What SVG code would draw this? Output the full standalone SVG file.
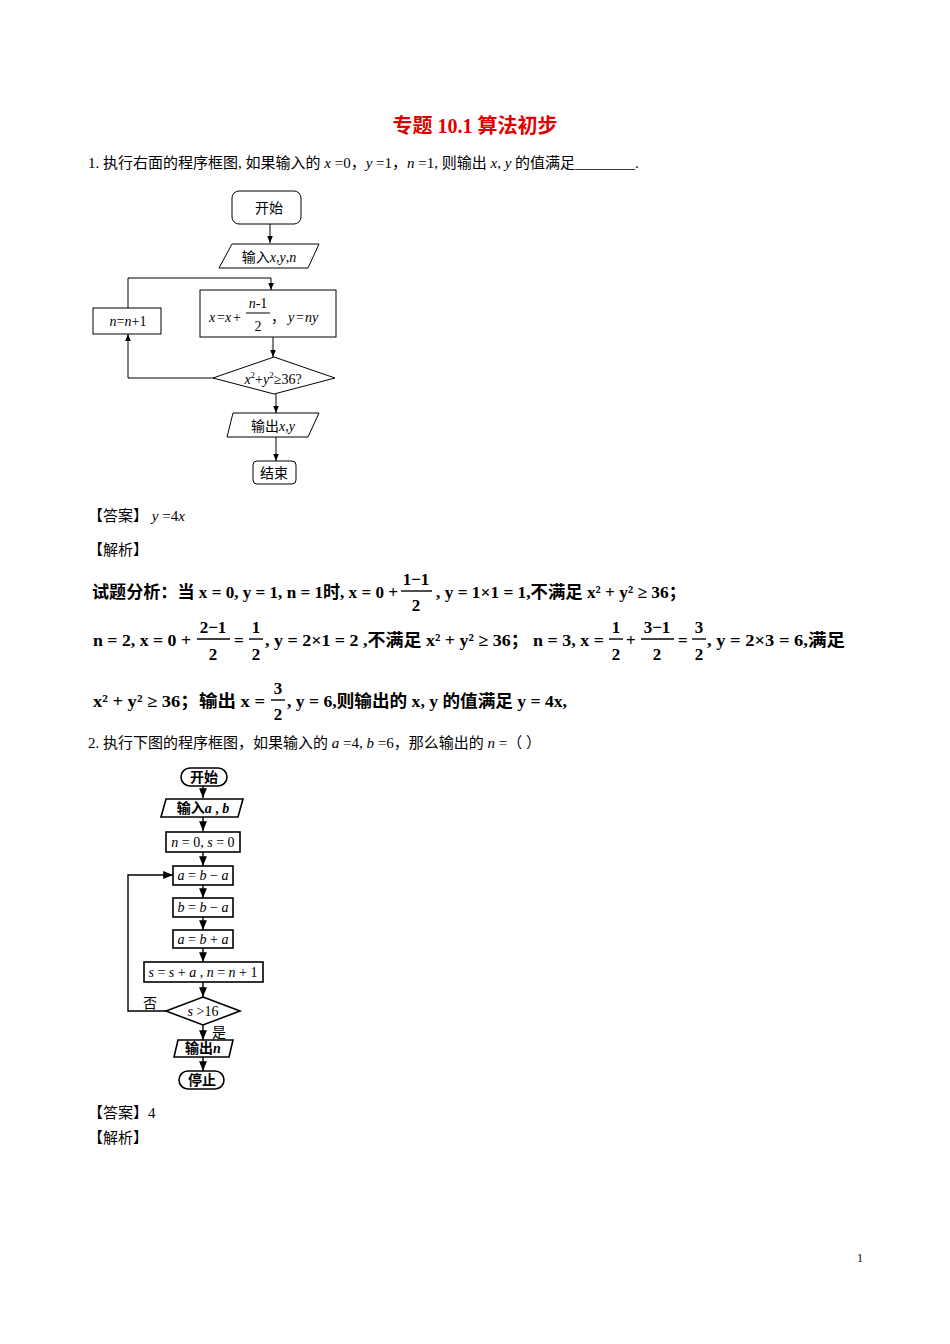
<svg xmlns="http://www.w3.org/2000/svg" width="950" height="1344" viewBox="0 0 950 1344">
<defs>
<marker id="ar" viewBox="0 0 10 10" refX="10" refY="5" markerWidth="7" markerHeight="7" orient="auto-start-reverse"><path d="M0,1 L10,5 L0,9 z" fill="#000"/></marker>
<style>
text{font-family:"Liberation Serif","Noto Sans CJK SC",serif;fill:#000}
.t{font-size:15px}
.f{font-size:14px}
.m{font-size:17px;font-weight:bold}
.s{fill:none;stroke:#000;stroke-width:1}
.b{fill:#fff;stroke:#000;stroke-width:1}
.b2{fill:#fff;stroke:#000;stroke-width:1.6}
.c{stroke:#000;stroke-width:1;fill:none}
.c2{stroke:#000;stroke-width:1.4;fill:none}
i{}
</style>
</defs>
<rect width="950" height="1344" fill="#fff"/>
<text x="475" y="133" text-anchor="middle" style="font-size:20px;font-weight:bold;fill:#e00000">专题 10.1  算法初步</text>
<text class="t" x="88" y="168">1. 执行右面的程序框图, 如果输入的 <tspan font-style="italic">x</tspan> =0，<tspan font-style="italic">y</tspan> =1，<tspan font-style="italic">n</tspan> =1, 则输出 <tspan font-style="italic">x</tspan>, <tspan font-style="italic">y</tspan> 的值满足________.</text>

<g id="connectors1">
<line class="c" x1="270" y1="224" x2="270" y2="243" marker-end="url(#ar)"/>
<polyline class="c" points="128,308 128,278 271,278 271,290" marker-end="url(#ar)"/>
<line class="c" x1="273" y1="337" x2="273" y2="357" marker-end="url(#ar)"/>
<polyline class="c" points="213,378 128,378 128,334" marker-end="url(#ar)"/>
<line class="c" x1="276" y1="394" x2="276" y2="413" marker-end="url(#ar)"/>
<line class="c" x1="276" y1="437" x2="276" y2="461" marker-end="url(#ar)"/>
</g>
<g id="start1"><rect class="b" x="232" y="191" width="69" height="33" rx="7"/><text class="f" x="269" y="213" text-anchor="middle">开始</text></g>
<g id="input1"><polygon class="b" points="232,244 319,244 308,268 219,268"/><text class="f" x="269" y="262" text-anchor="middle">输入<tspan font-style="italic">x</tspan>,<tspan font-style="italic">y</tspan>,<tspan font-style="italic">n</tspan></text></g>
<g id="proc1"><rect class="b" x="200" y="290" width="136" height="47"/>
<text class="f" x="209" y="322" font-style="italic">x</text><text class="f" x="217" y="322">=</text><text class="f" x="225" y="322" font-style="italic">x</text><text class="f" x="233" y="322">+</text>
<text class="f" x="258" y="308" text-anchor="middle"><tspan font-style="italic">n</tspan>-1</text><line class="c" x1="246" y1="313" x2="270" y2="313"/><text class="f" x="258" y="331" text-anchor="middle">2</text>
<text class="f" x="271" y="322">，</text><text class="f" x="288" y="322" font-style="italic">y</text><text class="f" x="296" y="322">=</text><text class="f" x="305" y="322" font-style="italic">ny</text></g>
<g id="inc1"><rect class="b" x="93" y="308" width="68" height="26"/><text class="f" x="128" y="326" text-anchor="middle"><tspan font-style="italic">n</tspan>=<tspan font-style="italic">n</tspan>+1</text></g>
<g id="dec1"><polygon class="b" points="274,357 335,378 274,394 213,378"/><text class="f" x="273" y="384" text-anchor="middle"><tspan font-style="italic">x</tspan><tspan font-size="9" dy="-6">2</tspan><tspan dy="6">+</tspan><tspan font-style="italic">y</tspan><tspan font-size="9" dy="-6">2</tspan><tspan dy="6">≥36?</tspan></text></g>
<g id="output1"><polygon class="b" points="233,413 319,413 308,437 227,437"/><text class="f" x="273" y="431" text-anchor="middle">输出<tspan font-style="italic">x</tspan>,<tspan font-style="italic">y</tspan></text></g>
<g id="end1"><rect class="b" x="253" y="461" width="43" height="23" rx="4"/><text class="f" x="274" y="478" text-anchor="middle">结束</text></g>

<text class="t" x="88" y="521">【答案】 <tspan font-style="italic">y</tspan> =4<tspan font-style="italic">x</tspan></text>
<text class="t" x="88" y="555">【解析】</text>

<g class="analysis">
<text class="m" x="92" y="598" textLength="306" lengthAdjust="spacingAndGlyphs">试题分析：当 x = 0, y = 1, n = 1时, x = 0 +</text>
<text class="m" x="416" y="585" text-anchor="middle">1−1</text><line class="c2" x1="401" y1="591" x2="432" y2="591"/><text class="m" x="416" y="611" text-anchor="middle">2</text>
<text class="m" x="436" y="598" textLength="250" lengthAdjust="spacingAndGlyphs">, y = 1×1 = 1,不满足 x² + y² ≥ 36；</text>

<text class="m" x="93" y="646" textLength="98" lengthAdjust="spacingAndGlyphs">n = 2, x = 0 +</text>
<text class="m" x="213" y="633" text-anchor="middle">2−1</text><line class="c2" x1="197" y1="639" x2="230" y2="639"/><text class="m" x="213" y="660" text-anchor="middle">2</text>
<text class="m" x="234" y="646">=</text>
<text class="m" x="256" y="633" text-anchor="middle">1</text><line class="c2" x1="249" y1="639" x2="263" y2="639"/><text class="m" x="256" y="660" text-anchor="middle">2</text>
<text class="m" x="265" y="646" textLength="339" lengthAdjust="spacingAndGlyphs">, y = 2×1 = 2 ,不满足 x² + y² ≥ 36； n = 3, x =</text>
<text class="m" x="616" y="633" text-anchor="middle">1</text><line class="c2" x1="609" y1="639" x2="623" y2="639"/><text class="m" x="616" y="660" text-anchor="middle">2</text>
<text class="m" x="626" y="646">+</text>
<text class="m" x="657" y="633" text-anchor="middle">3−1</text><line class="c2" x1="641" y1="639" x2="674" y2="639"/><text class="m" x="657" y="660" text-anchor="middle">2</text>
<text class="m" x="678" y="646">=</text>
<text class="m" x="699" y="633" text-anchor="middle">3</text><line class="c2" x1="692" y1="639" x2="706" y2="639"/><text class="m" x="699" y="660" text-anchor="middle">2</text>
<text class="m" x="707" y="646" textLength="138" lengthAdjust="spacingAndGlyphs">, y = 2×3 = 6,满足</text>

<text class="m" x="93" y="707" textLength="172" lengthAdjust="spacingAndGlyphs">x² + y² ≥ 36；输出 x =</text>
<text class="m" x="278" y="694" text-anchor="middle">3</text><line class="c2" x1="271" y1="700" x2="285" y2="700"/><text class="m" x="278" y="720" text-anchor="middle">2</text>
<text class="m" x="287" y="707" textLength="280" lengthAdjust="spacingAndGlyphs">, y = 6,则输出的 x, y 的值满足 y = 4x,</text>
</g>

<text class="t" x="88" y="748">2. 执行下图的程序框图，如果输入的 <tspan font-style="italic">a</tspan> =4,  <tspan font-style="italic">b</tspan> =6，那么输出的 <tspan font-style="italic">n</tspan> =（          ）</text>

<g id="connectors2">
<line class="c2" x1="203" y1="785" x2="203" y2="798" marker-end="url(#ar)"/>
<line class="c2" x1="203" y1="817" x2="203" y2="831" marker-end="url(#ar)"/>
<line class="c2" x1="203" y1="852" x2="203" y2="866" marker-end="url(#ar)"/>
<line class="c2" x1="203" y1="885" x2="203" y2="898" marker-end="url(#ar)"/>
<line class="c2" x1="203" y1="917" x2="203" y2="930" marker-end="url(#ar)"/>
<line class="c2" x1="203" y1="948" x2="203" y2="962" marker-end="url(#ar)"/>
<line class="c2" x1="203" y1="982" x2="203" y2="997" marker-end="url(#ar)"/>
<polyline class="c2" points="166,1011 128,1011 128,875 173,875" marker-end="url(#ar)"/>
<line class="c2" x1="203" y1="1025" x2="203" y2="1040" marker-end="url(#ar)"/>
<line class="c2" x1="203" y1="1057" x2="203" y2="1071" marker-end="url(#ar)"/>
<text class="f" x="143" y="1008">否</text>
<text class="f" x="212" y="1037">是</text>
</g>
<g id="start2"><rect class="b2" x="181" y="768" width="46" height="18" rx="9"/><text class="f" x="204" y="782" text-anchor="middle" font-weight="bold">开始</text></g>
<g id="input2"><polygon class="b2" points="166,799 243,799 238,817 161,817"/><text class="f" x="203" y="813" text-anchor="middle" font-weight="bold">输入<tspan font-style="italic">a</tspan> , <tspan font-style="italic">b</tspan></text></g>
<g id="init2"><rect class="b2" x="166" y="832" width="74" height="20"/><text class="f" x="203" y="847" text-anchor="middle"><tspan font-style="italic">n</tspan> = 0, <tspan font-style="italic">s</tspan> = 0</text></g>
<g id="p1"><rect class="b2" x="173" y="866" width="60" height="19"/><text class="f" x="203" y="880" text-anchor="middle"><tspan font-style="italic">a</tspan> = <tspan font-style="italic">b</tspan> − <tspan font-style="italic">a</tspan></text></g>
<g id="p2"><rect class="b2" x="173" y="898" width="60" height="19"/><text class="f" x="203" y="912" text-anchor="middle"><tspan font-style="italic">b</tspan> = <tspan font-style="italic">b</tspan> − <tspan font-style="italic">a</tspan></text></g>
<g id="p3"><rect class="b2" x="173" y="930" width="60" height="18"/><text class="f" x="203" y="944" text-anchor="middle"><tspan font-style="italic">a</tspan> = <tspan font-style="italic">b</tspan> + <tspan font-style="italic">a</tspan></text></g>
<g id="p4"><rect class="b2" x="144" y="962" width="119" height="20"/><text class="f" x="203" y="977" text-anchor="middle"><tspan font-style="italic">s</tspan> = <tspan font-style="italic">s</tspan> + <tspan font-style="italic">a</tspan> , <tspan font-style="italic">n</tspan> = <tspan font-style="italic">n</tspan> + 1</text></g>
<g id="dec2"><polygon class="b2" points="203,997 240,1011 203,1025 166,1011"/><text class="f" x="203" y="1016" text-anchor="middle"><tspan font-style="italic">s</tspan> &gt;16</text></g>
<g id="out2"><polygon class="b2" points="178,1040 233,1040 229,1057 174,1057"/><text class="f" x="203" y="1053" text-anchor="middle" font-weight="bold">输出<tspan font-style="italic">n</tspan></text></g>
<g id="stop2"><rect class="b2" x="179" y="1071" width="45" height="18" rx="9"/><text class="f" x="202" y="1085" text-anchor="middle" font-weight="bold">停止</text></g>

<text class="t" x="88" y="1118">【答案】4</text>
<text class="t" x="88" y="1143">【解析】</text>
<text style="font-size:12px" x="857" y="1262">1</text>
</svg>
